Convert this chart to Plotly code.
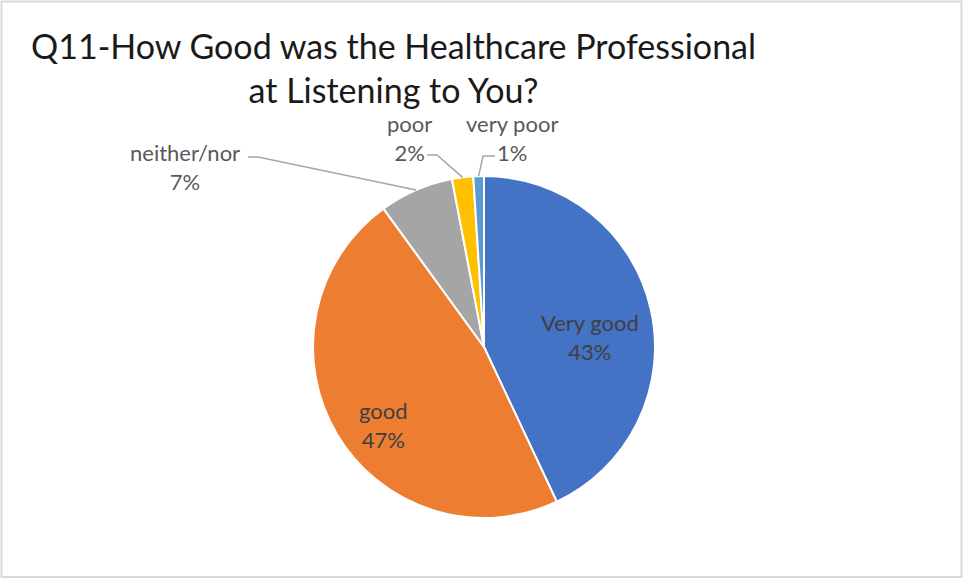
import math
import plotly.graph_objects as go

# Survey responses for Q11
categories = ["Very good", "good", "neither/nor", "poor", "very poor"]
values = [43, 47, 7, 2, 1]
colors = ["#4472C4", "#ED7D31", "#A5A5A5", "#FFC000", "#5B9BD5"]

W, H = 963, 579
CX, CY, R = 484, 347, 171  # pie centre and radius in pixels

# Data-label placement (text centre, px); outside labels also get a leader
# line running from "start" through "elbow" to the slice edge.
label_layout = {
    "Very good": dict(text=(590, 337), color="#404040"),
    "good": dict(text=(383, 425), color="#404040"),
    "neither/nor": dict(text=(185, 167), color="#595959", start=(248, 157), elbow=(258, 157)),
    "poor": dict(text=(409, 138), color="#595959", start=(427, 155), elbow=(437, 155)),
    "very poor": dict(text=(512, 138), color="#595959", start=(495, 156), elbow=(483, 156)),
}


def px(x, y):
    return x / W, 1 - y / H


total = sum(values)

fig = go.Figure(
    go.Pie(
        labels=categories,
        values=values,
        sort=False,
        direction="clockwise",
        rotation=0,
        marker=dict(colors=colors, line=dict(color="white", width=2)),
        textinfo="none",
        domain=dict(x=[(CX - R) / W, (CX + R) / W], y=[(H - CY - R) / H, (H - CY + R) / H]),
        showlegend=False,
        hoverinfo="label+percent",
    )
)

shapes = []
annotations = []
cum = 0
for c, v in zip(categories, values):
    mid = (cum + v / 2) / total * 2 * math.pi
    cum += v
    lay = label_layout[c]
    if "start" in lay:
        ex = CX + R * math.sin(mid)
        ey = CY - R * math.cos(mid)
        pts = [lay["start"], lay["elbow"], (ex, ey)]
        path = "M " + " L ".join(f"{px(x, y)[0]:.5f},{px(x, y)[1]:.5f}" for x, y in pts)
        shapes.append(dict(type="path", xref="paper", yref="paper", path=path,
                           line=dict(color="#A6A6A6", width=1.5)))
    tx, ty = px(*lay["text"])
    annotations.append(dict(
        x=tx, y=ty, xref="paper", yref="paper", showarrow=False,
        text=f"{c}<br>{round(100 * v / total)}%",
        font=dict(family="Lato", size=22, color=lay["color"]),
        align="center", xanchor="center", yanchor="middle",
    ))

# Chart border
shapes.append(dict(type="rect", xref="paper", yref="paper",
                   x0=px(1.5, 0)[0], x1=px(961.5, 0)[0], y0=px(0, 577)[1], y1=px(0, 1.5)[1],
                   line=dict(color="#D9D9D9", width=2)))

# Title
annotations.append(dict(
    x=px(393, 0)[0], y=px(0, 67)[1], xref="paper", yref="paper", showarrow=False,
    text="Q11-How Good was the Healthcare Professional<br>at Listening to You?",
    font=dict(family="Lato", size=34, color="#1A1A1A"),
    align="center", xanchor="center", yanchor="middle",
))

fig.update_layout(
    width=W, height=H,
    margin=dict(l=0, r=0, t=0, b=0),
    paper_bgcolor="white",
    plot_bgcolor="white",
    shapes=shapes,
    annotations=annotations,
)

fig.write_html("out.html")
